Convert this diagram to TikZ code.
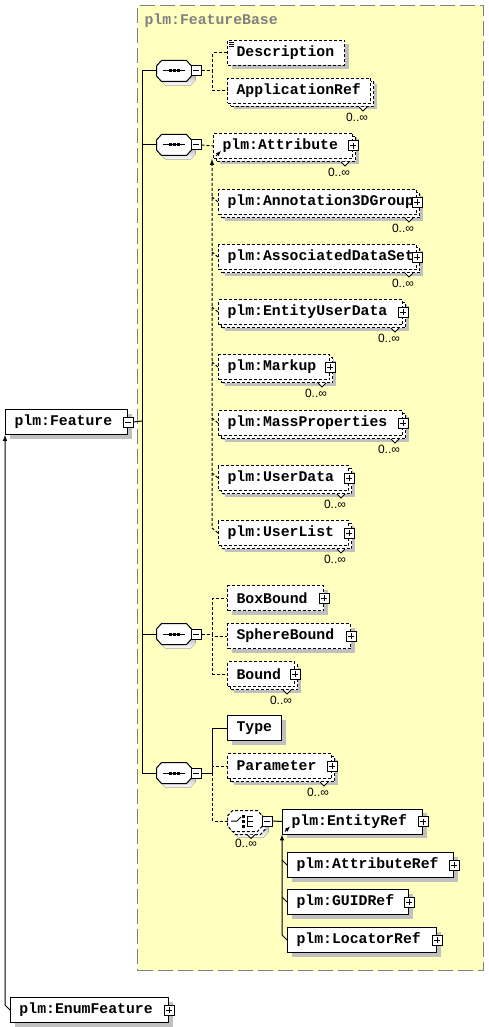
\documentclass[tikz,border=0pt]{standalone}
\usepackage{fontspec}
\usetikzlibrary{calc,shadows,arrows}
\newfontfamily\xsdfont{Liberation Mono}
\newfontfamily\cardfont{Liberation Sans}
\definecolor{grpfill}{RGB}{255,255,192}
\definecolor{grpline}{RGB}{128,128,128}
\definecolor{shade}{RGB}{192,192,192}
\tikzset{%
  elem/.style={draw, fill=white, rectangle, anchor=north west, minimum height=25pt,
    inner xsep=9pt, inner ysep=0pt, align=left,
    font=\xsdfont\bfseries\fontsize{14.8}{16}\selectfont,
    drop shadow={shadow xshift=4pt, shadow yshift=-4pt, fill=shade, opacity=1}},% element box
  optional/.style={dash pattern=on 3pt off 2pt},% minOccurs 0
  multi/.style={drop shadow={shadow xshift=6pt, shadow yshift=-6pt, fill=shade, opacity=1},
    copy shadow={shadow xshift=3pt, shadow yshift=-3pt, fill=white, draw=black}},% maxOccurs unbounded
  compositor/.style={rectangle, minimum width=34pt, minimum height=20pt, inner sep=0pt},
  btn/.style={draw, fill=white, rectangle, minimum size=10pt, inner sep=0pt},
  plusbtn/.style={btn, path picture={
      \draw ($(path picture bounding box.center)+(-3,0)$) -- ++(6,0);
      \draw ($(path picture bounding box.center)+(0,-3)$) -- ++(0,6);}},
  minusbtn/.style={btn, path picture={
      \draw ($(path picture bounding box.center)+(-3,0)$) -- ++(6,0);}},
  card/.style={font=\cardfont\fontsize{12}{13}\selectfont, inner sep=0pt},% occurrence label
  subst/.style={-latex},% substitution group link
  grpbox/.style={draw=grpline, fill=grpfill, dash pattern=on 15pt off 5pt,
    anchor=north west, inner sep=0pt},
  grptitle/.style={text=grpline, anchor=west, inner sep=0pt,
    font=\xsdfont\bfseries\fontsize{14.8}{16}\selectfont}
}
% octagon round a compositor node, shifted by #2
\newcommand*{\octagon}[2]{($(#1.west)+(#2,#2-5)$) -- ($(#1.north west)+(#2+5,#2)$)
  -- ($(#1.north east)+(#2-5,#2)$) -- ($(#1.east)+(#2,#2-5)$) -- ($(#1.east)+(#2,#2+5)$)
  -- ($(#1.south east)+(#2-5,#2)$) -- ($(#1.south west)+(#2+5,#2)$)
  -- ($(#1.west)+(#2,#2+5)$) -- cycle}
\begin{document}
\begin{tikzpicture}[x=1pt, y=-1pt, line width=1pt]
\useasboundingbox (0,0) rectangle (489,1027);

% group plm:FeatureBase
\node[grpbox, minimum width=346pt, minimum height=965pt] (grpBase) at (137,5) {};
\node[grptitle] (grpTitle) at (144,21) {plm:FeatureBase};

\node[elem, text width=104pt] (feat) at (5,409) {plm:Feature};
\node[elem, text width=140pt] (enumF) at (10,997) {plm:EnumFeature};

% compositors
\node[compositor] (seqA) at (174,71) {};
\node[compositor] (seqB) at (174,145) {};
\node[compositor] (seqC) at (174,634) {};
\node[compositor] (seqD) at (174,773) {};
\node[compositor] (choice) at (245,821) {};
\foreach \s in {seqA,seqB,seqC,seqD}{
  \fill[shade] \octagon{\s}{4};
  \filldraw[fill=white] \octagon{\s}{0};
  \draw ($(\s.center)+(-11,0)$) -- ++(22,0);
  \foreach \d in {-4,0,4}
    \fill ($(\s.center)+(\d-1.5,-1.5)$) rectangle ++(3,3);
}
\fill[shade] \octagon{choice}{6};
\filldraw[fill=white, optional] \octagon{choice}{3};
\filldraw[fill=white, optional] \octagon{choice}{0};
\draw ($(choice.center)+(-14,0)$) -- ++(6,0) -- ++(4,-4);
\foreach \d in {-5,0,5}{
  \fill ($(choice.center)+(-3,\d-1.5)$) rectangle ++(3,3);
  \draw ($(choice.center)+(2,\d)$) -- ++(6,0);
}
\draw ($(choice.center)+(2,-5)$) -- ++(0,10);

% first sequence
\node[elem, optional, text width=99pt] (descr) at (227,40) {Description};
\node[elem, optional, multi, text width=125pt] (appRef) at (227,78) {ApplicationRef};

% substitution group plm:Attribute
\node[elem, optional, multi, text width=121pt] (attr) at (213,133) {plm:Attribute};
\node[elem, optional, multi, text width=180pt] (annot) at (218,189) {plm:Annotation3DGroup};
\node[elem, optional, multi, text width=180pt] (assoc) at (218,244) {plm:AssociatedDataSet};
\node[elem, optional, multi, text width=166pt] (entUD) at (218,299) {plm:EntityUserData};
\node[elem, optional, multi, text width=93pt] (markup) at (218,354) {plm:Markup};
\node[elem, optional, multi, text width=166pt] (massP) at (218,410) {plm:MassProperties};
\node[elem, optional, multi, text width=112pt] (uData) at (218,465) {plm:UserData};
\node[elem, optional, multi, text width=112pt] (uList) at (218,520) {plm:UserList};

% bounds
\node[elem, optional, text width=78pt] (boxB) at (227,585) {BoxBound};
\node[elem, optional, text width=105pt] (sphB) at (227,623) {SphereBound};
\node[elem, optional, multi, text width=49pt] (bound) at (227,661) {Bound};

% last sequence
\node[elem, text width=36pt] (type) at (227,715) {Type};
\node[elem, optional, multi, text width=86pt] (param) at (227,753) {Parameter};
\node[elem, text width=122pt] (entRef) at (282,808.5) {plm:EntityRef};
\node[elem, text width=148pt] (attrRef) at (287,852) {plm:AttributeRef};
\node[elem, text width=103pt] (guidRef) at (287,889) {plm:GUIDRef};
\node[elem, text width=131pt] (locRef) at (287,927) {plm:LocatorRef};

% expand / collapse buttons
\node[minusbtn] (feat-x) at (feat.east) {};
\foreach \s in {seqA,seqB,seqC,seqD,choice}
  \node[minusbtn] (\s-x) at ([xshift=22pt]\s.center) {};
\foreach \n in {enumF,attr,annot,assoc,entUD,markup,massP,uData,uList,boxB,sphB,bound,param,entRef,attrRef,guidRef,locRef}
  \node[plusbtn] (\n-x) at (\n.east) {};

% occurrence marks
\foreach \n in {appRef,attr,annot,assoc,entUD,markup,massP,uData,uList,bound,param}{
  \filldraw[fill=white] ($(\n.south east)+(-4,3)$) -- ++(-4,4) -- ++(-4,-4);
  \node[card] (\n-n) at ($(\n.south east)+(-14,13)$) {0..∞};
}
\filldraw[fill=white] ($(choice.south)+(10,3)$) -- ++(-4,4) -- ++(-4,-4);
\node[card] (choice-n) at ($(choice.south)+(1,12)$) {0..∞};

% small marks
\foreach \d in {2,4,6}
  \draw[line width=0.6pt] ($(descr.north west)+(2,\d)$) -- ++(5,0);
\foreach \n in {attr,entRef}
  \draw[-latex, line width=0.8pt] ($(\n.south west)+(3,-3)$) -- ++(5,-5);

% connectors
\coordinate (trunk) at (142,421);
\draw (feat-x.east) -- (trunk);
\foreach \s in {seqA,seqB,seqC,seqD}
  \draw (\s.west) -| (trunk);

\draw[optional] (seqA-x.east) -- ++(11,0) |- (descr.west);
\draw[optional] (seqA-x.east) -- ++(11,0) |- (appRef.west);
\draw[optional] (seqB-x.east) -- (attr.west);
\draw[optional, subst] (uList.west) -- ++(-6,-5) -- ([xshift=-1pt]attr.south west);
\foreach \m in {annot,assoc,entUD,markup,massP,uData}
  \draw[optional] (\m.west) -- ++(-6,-5);

\foreach \m in {boxB,sphB,bound}
  \draw[optional] (seqC-x.east) -- ++(11,0) |- (\m.west);

\draw (seqD-x.east) -- ++(11,0) |- (type.west);
\draw[optional] (seqD-x.east) ++(11,0) |- (param.west);
\draw[optional] (seqD-x.east) ++(11,0) |- (choice.west);
\draw (choice-x.east) -- (entRef.west);
\draw[subst] (locRef.west) -- ++(-5,-5) -- (entRef.south west);
\foreach \m in {attrRef,guidRef}
  \draw (\m.west) -- ++(-5,-5);

\draw[subst] (enumF.west) -- ++(-5,-5) -- (feat.south west);
\end{tikzpicture}
\end{document}
